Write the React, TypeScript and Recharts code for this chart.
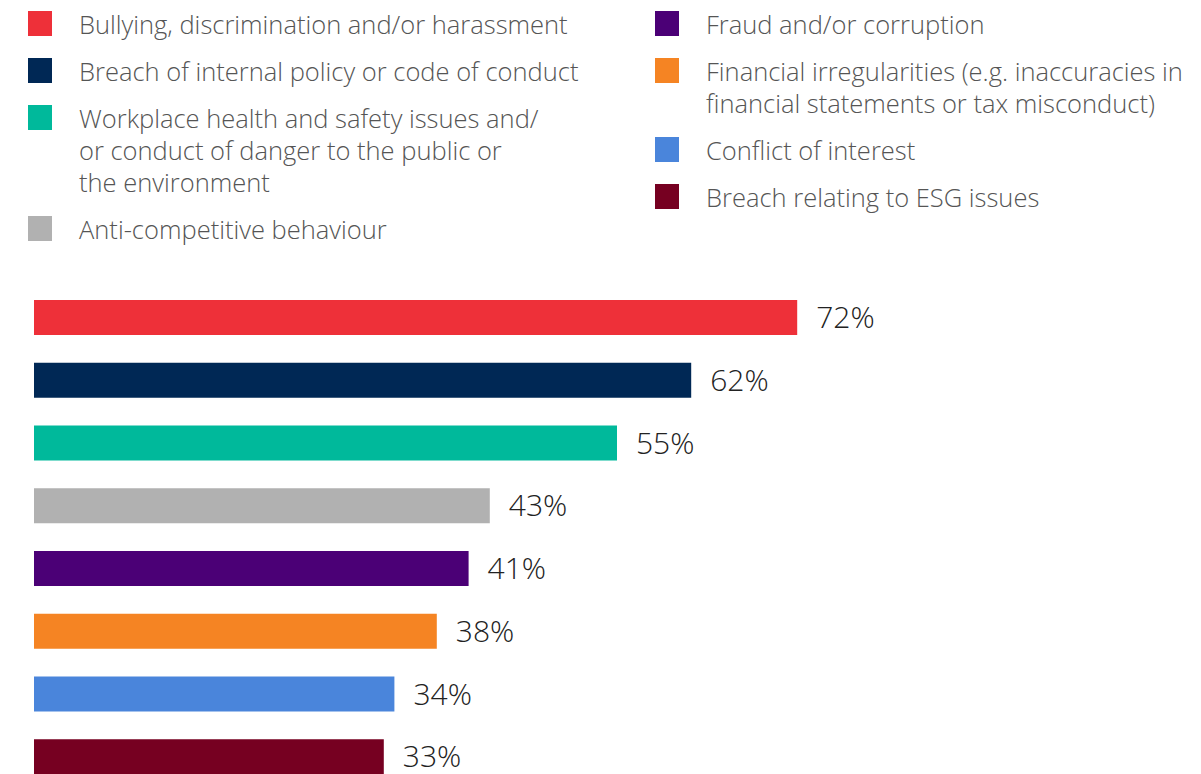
import React from "react";
import { BarChart, Bar, XAxis, YAxis, Cell, LabelList } from "recharts";

const categories = [
  "Bullying, discrimination and/or harassment",
  "Breach of internal policy or code of conduct",
  "Workplace health and safety issues and/or conduct of danger to the public or the environment",
  "Anti-competitive behaviour",
  "Fraud and/or corruption",
  "Financial irregularities (e.g. inaccuracies in financial statements or tax misconduct)",
  "Conflict of interest",
  "Breach relating to ESG issues",
];
const values = [72, 62, 55, 43, 41, 38, 34, 33];
const colors = ["#EE3039", "#002855", "#00B99B", "#B1B1B1", "#4B0076", "#F58423", "#4A85DB", "#760021"];

const legendLeftLines: string[][] = [
  ["Bullying, discrimination and/or harassment"],
  ["Breach of internal policy or code of conduct"],
  ["Workplace health and safety issues and/", "or conduct of danger to the public or", "the environment"],
  ["Anti-competitive behaviour"],
];
const legendRightLines: string[][] = [
  ["Fraud and/or corruption"],
  ["Financial irregularities (e.g. inaccuracies in", "financial statements or tax misconduct)"],
  ["Conflict of interest"],
  ["Breach relating to ESG issues"],
];

const data = categories.map((c, i) => ({ name: c, value: values[i], color: colors[i] }));

const FONT = "'Open Sans', 'Noto Sans', sans-serif";

function LegendColumn({ items, colorOffset, left }: { items: string[][]; colorOffset: number; left: number }) {
  return (
    <div style={{ position: "absolute", left, top: 8 }}>
      {items.map((lines, i) => (
        <div key={i} style={{ display: "flex", alignItems: "flex-start", marginBottom: 15 }}>
          <div
            style={{
              width: 24,
              height: 25,
              marginTop: 3,
              background: colors[colorOffset + i],
              flex: "none",
            }}
          />
          <div
            style={{
              marginLeft: 27,
              fontSize: 25.5,
              lineHeight: "32px",
              color: "#555555",
              fontWeight: 300,
              whiteSpace: "nowrap",
            }}
          >
            {lines.map((l, j) => (
              <div key={j}>{l}</div>
            ))}
          </div>
        </div>
      ))}
    </div>
  );
}

export default function App() {
  return (
    <div
      style={{
        position: "absolute",
        left: 0,
        top: 0,
        width: 1201,
        height: 774,
        overflow: "hidden",
        background: "#ffffff",
        fontFamily: FONT,
      }}
    >
      <BarChart
        width={1201}
        height={802}
        data={data}
        layout="vertical"
        margin={{ top: 286, right: 107, bottom: 14, left: 34 }}
        barSize={35}
      >
        <XAxis type="number" domain={[0, 100]} hide />
        <YAxis type="category" dataKey="name" hide width={0} />
        <Bar dataKey="value" isAnimationActive={false}>
          {data.map((d, i) => (
            <Cell key={i} fill={d.color} />
          ))}
          <LabelList
            dataKey="value"
            position="right"
            offset={19}
            formatter={(v: any) => `${v}%`}
            style={{ fill: "#222222", fontSize: 30, fontWeight: 300, fontFamily: FONT }}
          />
        </Bar>
      </BarChart>
      <LegendColumn items={legendLeftLines} colorOffset={0} left={28} />
      <LegendColumn items={legendRightLines} colorOffset={4} left={655} />
    </div>
  );
}
